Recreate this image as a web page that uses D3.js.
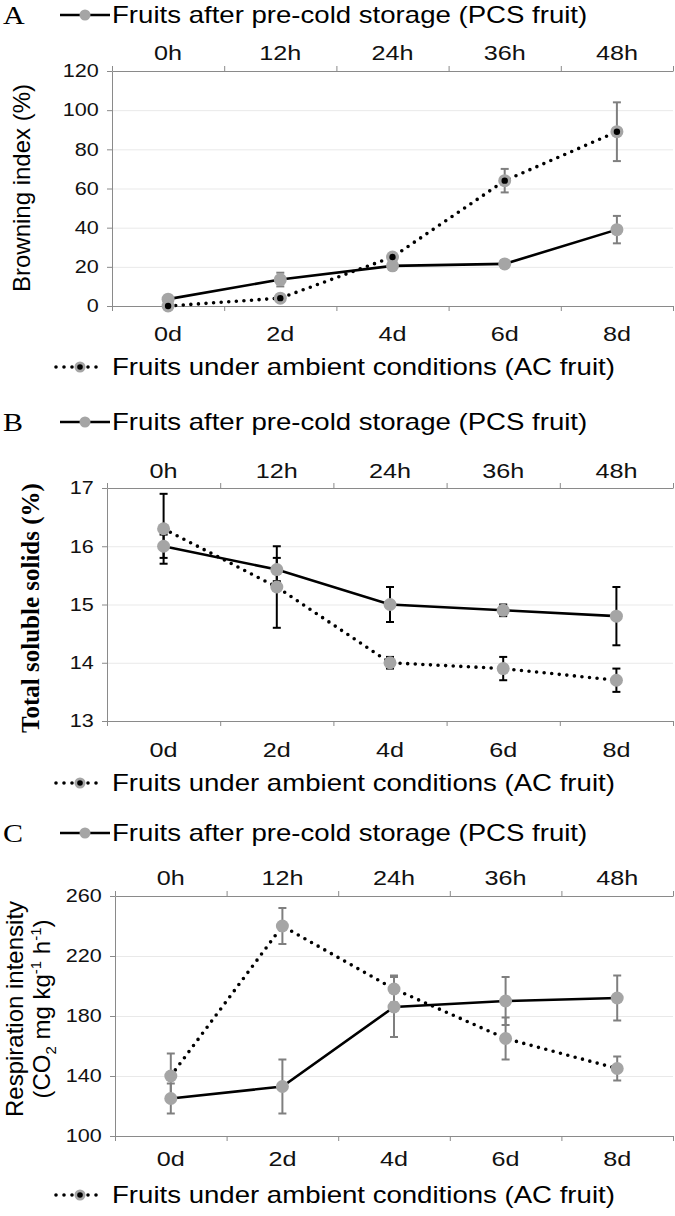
<!DOCTYPE html>
<html><head><meta charset="utf-8">
<script src="https://cdn.jsdelivr.net/npm/d3@7"></script>
<style>
body { margin: 0; background: #fff; }
svg { display: block; }
</style></head><body>
<script>
const days = ["0d", "2d", "4d", "6d", "8d"];
const hours = ["0h", "12h", "24h", "36h", "48h"];

const browningTicks = [0, 20, 40, 60, 80, 100, 120];
const browningPCS = [3.5, 13.5, 20.5, 21.5, 39];
const browningPCSErr = [1, 3.5, 1, 2, 7];
const browningAC = [0, 4, 25, 64, 89];
const browningACErr = [0, 1, 1.5, 6, 15];

const tssTicks = [13, 14, 15, 16, 17];
const tssPCS = [16.0, 15.6, 15.0, 14.9, 14.8];
const tssPCSErr = [0.2, 0.2, 0.3, 0.1, 0.5];
const tssAC = [16.3, 15.3, 14.0, 13.9, 13.7];
const tssACErr = [0.6, 0.7, 0.1, 0.2, 0.2];

const respTicks = [100, 140, 180, 220, 260];
const respPCS = [125, 133, 186, 190, 192];
const respPCSErr = [10, 18, 20, 16, 15];
const respAC = [140, 240, 198, 165, 145];
const respACErr = [15, 12, 9, 14, 8];

const pcsLabel = "Fruits after pre-cold storage (PCS fruit)";
const acLabel = "Fruits under ambient conditions (AC fruit)";

const SX = 1.2;
const sans = "'Liberation Sans', Arial, sans-serif";
const serif = "'Liberation Serif', 'Times New Roman', serif";
const markerGray = "#a5a5a5", axisGray = "#8a8a8a", gridGray = "#e9e9e9";

const svg = d3.select("body").append("svg")
    .attr("width", 675)
    .attr("height", 1216);

// layout of each panel (pixels)
const panels = [
    { letter: "A", left: 112, right: 673, top: 71, bottom: 306, legendTop: 15, hoursY: 53, daysY: 334, legendBottom: 367,
      ticks: browningTicks, pcs: browningPCS, pcsErr: browningPCSErr, ac: browningAC, acErr: browningACErr,
      errColor: "#7f7f7f", acDot: true },
    { letter: "B", left: 107, right: 673, top: 488, bottom: 721, legendTop: 422, hoursY: 471, daysY: 750, legendBottom: 783,
      ticks: tssTicks, pcs: tssPCS, pcsErr: tssPCSErr, ac: tssAC, acErr: tssACErr,
      errColor: "#000", acDot: false },
    { letter: "C", left: 115, right: 673, top: 896, bottom: 1136, legendTop: 833, hoursY: 878, daysY: 1159, legendBottom: 1195,
      ticks: respTicks, pcs: respPCS, pcsErr: respPCSErr, ac: respAC, acErr: respACErr,
      errColor: "#7f7f7f", acDot: false }
];

function stretch(sel) {
    sel.attr("transform", `scale(${SX},1)`);
}

function drawPanel(p) {
    const g = svg.append("g");

    const x = d3.scaleBand().domain(days).range([p.left, p.right]);
    const xh = d3.scaleBand().domain(hours).range([p.left, p.right]);
    const bounds = d3.scaleLinear().domain([0, days.length]).range([p.left, p.right]);
    const y = d3.scaleLinear().domain(d3.extent(p.ticks)).range([p.bottom, p.top]);
    const cx = i => x(days[i]) + x.bandwidth() / 2;

    // gridlines
    g.append('g')
        .attr('transform', `translate(${p.left},0)`)
        .call(d3.axisLeft(y).tickValues(p.ticks).tickSize(-(p.right - p.left)).tickFormat(""))
        .call(a => a.select(".domain").remove())
        .call(a => a.selectAll("line").attr("stroke", gridGray));

    // y axis
    g.append('g')
        .attr('transform', `translate(${p.left},0)`)
        .call(d3.axisLeft(y).tickValues(p.ticks).tickFormat(d3.format("d")).tickSize(5).tickSizeOuter(0).tickPadding(6))
        .call(a => a.selectAll(".domain, line").attr("stroke", axisGray))
        .call(a => a.selectAll("text").attr("font-family", sans).attr("font-size", 18).attr("fill", "#111").call(stretch));

    // bottom axis: boundary ticks + day labels
    g.append('g')
        .attr('transform', `translate(0,${p.bottom})`)
        .call(d3.axisBottom(bounds).tickValues(d3.range(days.length + 1)).tickSize(5).tickSizeOuter(0).tickFormat(""))
        .call(a => a.selectAll(".domain, line").attr("stroke", axisGray));
    g.append('g')
        .attr('transform', `translate(0,${p.bottom})`)
        .call(d3.axisBottom(x).tickSize(0))
        .call(a => a.selectAll(".domain").remove())
        .call(a => a.selectAll("text").attr("y", p.daysY - p.bottom).attr("dy", "0.35em")
            .attr("font-family", sans).attr("font-size", 21).attr("fill", "#111").call(stretch));

    // top axis: boundary ticks + hour labels
    g.append('g')
        .attr('transform', `translate(0,${p.top})`)
        .call(d3.axisTop(bounds).tickValues(d3.range(days.length + 1)).tickSize(5).tickSizeOuter(0).tickFormat(""))
        .call(a => a.selectAll(".domain, line").attr("stroke", axisGray));
    g.append('g')
        .attr('transform', `translate(0,${p.top})`)
        .call(d3.axisTop(xh).tickSize(0))
        .call(a => a.selectAll(".domain").remove())
        .call(a => a.selectAll("text").attr("y", p.hoursY - p.top).attr("dy", "0.35em")
            .attr("font-family", sans).attr("font-size", 21).attr("fill", "#111").call(stretch));

    // error bars
    const series = [
        { values: p.pcs, err: p.pcsErr },
        { values: p.ac, err: p.acErr }
    ];
    series.forEach(s => {
        s.values.forEach((v, i) => {
            if (!s.err[i]) return;
            const eg = g.append('g').attr("stroke", p.errColor).attr("stroke-width", 2);
            eg.append('line').attr('x1', cx(i)).attr('x2', cx(i))
                .attr('y1', y(v - s.err[i])).attr('y2', y(v + s.err[i]));
            [v - s.err[i], v + s.err[i]].forEach(e => {
                eg.append('line').attr('x1', cx(i) - 4).attr('x2', cx(i) + 4)
                    .attr('y1', y(e)).attr('y2', y(e));
            });
        });
    });

    const line = d3.line()
        .x((d, i) => cx(i))
        .y(d => y(d));

    g.append('path')
        .datum(p.pcs)
        .attr("fill", "none")
        .attr("stroke", "#000")
        .attr("stroke-width", 2.6)
        .attr('d', line);

    g.append('path')
        .datum(p.ac)
        .attr("fill", "none")
        .attr("stroke", "#000")
        .attr("stroke-width", 3.6)
        .attr("stroke-linecap", "round")
        .attr("stroke-dasharray", "0 7.6")
        .attr('d', line);

    g.selectAll('.pcs-dot')
        .data(p.pcs)
        .join('circle')
        .attr('cx', (d, i) => cx(i))
        .attr('cy', d => y(d))
        .attr('r', 6.5)
        .attr('fill', markerGray);

    g.selectAll('.ac-dot')
        .data(p.ac)
        .join('circle')
        .attr('cx', (d, i) => cx(i))
        .attr('cy', d => y(d))
        .attr('r', 6.5)
        .attr('fill', markerGray);

    if (p.acDot) {
        g.selectAll('.ac-core')
            .data(p.ac)
            .join('circle')
            .attr('cx', (d, i) => cx(i))
            .attr('cy', d => y(d))
            .attr('r', 3.2)
            .attr('fill', "#000");
    }

    // panel letter
    g.append('text')
        .attr('transform', `translate(3,${p.legendTop + 9}) scale(${SX},1)`)
        .attr('font-family', serif)
        .attr('font-size', 25)
        .text(p.letter);

    // top legend (PCS)
    g.append('line')
        .attr('x1', 60).attr('x2', 110)
        .attr('y1', p.legendTop).attr('y2', p.legendTop)
        .attr('stroke', '#000').attr('stroke-width', 2.6);
    g.append('circle').attr('cx', 85).attr('cy', p.legendTop).attr('r', 5.5).attr('fill', markerGray);
    g.append('text')
        .attr('transform', `translate(112,${p.legendTop}) scale(${SX},1)`)
        .attr('dy', '0.35em')
        .attr('font-family', sans)
        .attr('font-size', 23)
        .text(pcsLabel);

    // bottom legend (AC)
    g.append('line')
        .attr('x1', 56).attr('x2', 104)
        .attr('y1', p.legendBottom).attr('y2', p.legendBottom)
        .attr('stroke', '#000').attr('stroke-width', 3.6)
        .attr('stroke-linecap', 'round').attr('stroke-dasharray', '0 8');
    g.append('circle').attr('cx', 80).attr('cy', p.legendBottom).attr('r', 5.5).attr('fill', markerGray);
    g.append('circle').attr('cx', 80).attr('cy', p.legendBottom).attr('r', 2.8).attr('fill', '#000');
    g.append('text')
        .attr('transform', `translate(112,${p.legendBottom}) scale(${SX},1)`)
        .attr('dy', '0.35em')
        .attr('font-family', sans)
        .attr('font-size', 23)
        .text(acLabel);

    return g;
}

const gA = drawPanel(panels[0]);
const gB = drawPanel(panels[1]);
const gC = drawPanel(panels[2]);

// y axis titles
gA.append('text')
    .attr('transform', 'translate(22,188) rotate(-90)')
    .attr('text-anchor', 'middle')
    .attr('dy', '0.35em')
    .attr('font-family', sans)
    .attr('font-size', 24)
    .text('Browning index (%)');

gB.append('text')
    .attr('transform', 'translate(30,608) rotate(-90)')
    .attr('text-anchor', 'middle')
    .attr('dy', '0.35em')
    .attr('font-family', serif)
    .attr('font-weight', 'bold')
    .attr('font-size', 25)
    .text('Total soluble solids (%)');

gC.append('text')
    .attr('transform', 'translate(15,1009) rotate(-90)')
    .attr('text-anchor', 'middle')
    .attr('dy', '0.35em')
    .attr('font-family', sans)
    .attr('font-size', 24)
    .text('Respiration intensity');

const unit = gC.append('text')
    .attr('transform', 'translate(42,1009) rotate(-90)')
    .attr('text-anchor', 'middle')
    .attr('dy', '0.35em')
    .attr('font-family', sans)
    .attr('font-size', 24);
unit.append('tspan').text('(CO');
unit.append('tspan').attr('font-size', 15).attr('dy', 6).text('2');
unit.append('tspan').attr('dy', -6).text(' mg kg');
unit.append('tspan').attr('font-size', 15).attr('dy', -9).text('-1');
unit.append('tspan').attr('dy', 9).text(' h');
unit.append('tspan').attr('font-size', 15).attr('dy', -9).text('-1');
unit.append('tspan').attr('dy', 9).text(')');
</script>
</body></html>
